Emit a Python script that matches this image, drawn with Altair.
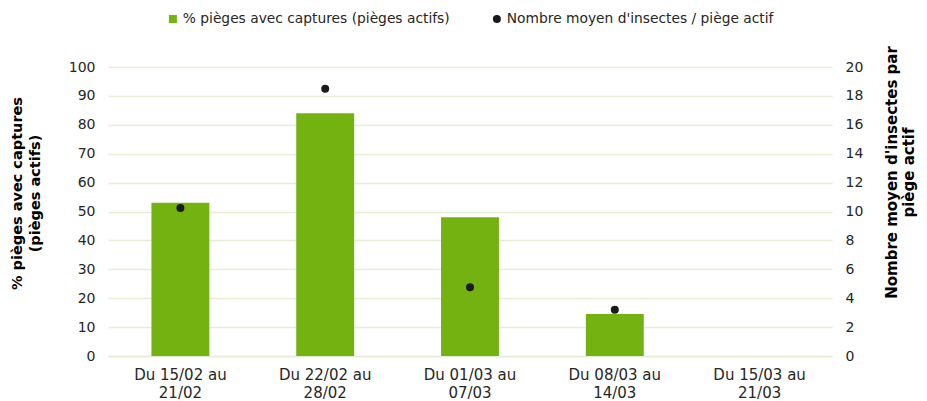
import altair as alt
import pandas as pd

categories = ["Du 15/02 au\n21/02", "Du 22/02 au\n28/02", "Du 01/03 au\n07/03",
              "Du 08/03 au\n14/03", "Du 15/03 au\n21/03"]
pct_values = [53, 84, 48, 14.5, None]
mean_values = [10.25, 18.5, 4.75, 3.2, None]
series = ["% pièges avec captures (pièges actifs)", "Nombre moyen d'insectes / piège actif"]

GREEN = "#74B211"
GRID = "#E3EED5"
FONT = "DejaVu Sans"
TXT = "#262626"

bars_df = pd.DataFrame({"cat": categories, "val": pct_values, "serie": series[0]}).dropna()
pts_df = pd.DataFrame({"cat": categories, "val": mean_values, "serie": series[1]}).dropna()

x_enc = alt.X("cat:N", sort=categories,
              scale=alt.Scale(domain=categories, paddingInner=0.6, paddingOuter=0.3, round=False),
              axis=alt.Axis(title=None, labelAngle=0, labelExpr="split(datum.value, '\\n')",
                            labelFontSize=15, labelColor=TXT, labelFont=FONT, labelPadding=11,
                            labelLineHeight=18, ticks=False, domainColor=GRID, domainWidth=1.5,
                            labelLimit=200))

legend_kw = dict(title=None, orient="none", legendX=58, legendY=-55,
                 direction="horizontal", labelFontSize=13.8, labelFont=FONT,
                 labelColor=TXT, symbolSize=64, columnPadding=40,
                 labelOffset=3, labelLimit=400)
color_enc = alt.Color("serie:N", scale=alt.Scale(domain=series, range=[GREEN, "#1a1a1a"]),
                      legend=alt.Legend(**legend_kw))
shape_enc = alt.Shape("serie:N", scale=alt.Scale(domain=series, range=["square", "circle"]),
                      legend=alt.Legend(**legend_kw))

bars = alt.Chart(bars_df).mark_bar(color=GREEN).encode(
    x=x_enc,
    y=alt.Y("val:Q", scale=alt.Scale(domain=[0, 100], nice=False),
            axis=alt.Axis(title=["% pièges avec captures", "(pièges actifs)"], values=list(range(0, 101, 10)),
                          grid=True, gridColor=GRID, gridWidth=1.5, domain=False, ticks=False,
                          labelFontSize=14, labelFont=FONT, labelColor=TXT, labelPadding=13,
                          titleFontSize=14.5, titleFont=FONT, titleFontWeight="bold", titleColor="#000",
                          titlePadding=26, titleLineHeight=18, titleY=126)),
    color=color_enc,
)

pts = alt.Chart(pts_df).mark_point(filled=True, size=64, opacity=1).encode(
    x=alt.X("cat:N", sort=categories),
    y=alt.Y("val:Q", scale=alt.Scale(domain=[0, 20], nice=False),
            axis=alt.Axis(title=["Nombre moyen d'insectes par", "piège actif"], orient="right",
                          values=list(range(0, 21, 2)), grid=False, domain=False, ticks=False,
                          labelFontSize=14, labelFont=FONT, labelColor=TXT, labelPadding=13,
                          titleFontSize=15, titleFont=FONT, titleFontWeight="bold", titleColor="#000",
                          titleAngle=270, titlePadding=20, titleLineHeight=17, titleY=105)),
    color=color_enc,
    shape=shape_enc,
)

chart = alt.layer(bars, pts).resolve_scale(y="independent").properties(
    width=724, height=289,
    autosize=alt.AutoSizeParams(type="none"),
    padding={"left": 100, "top": 59, "right": 87, "bottom": 45},
).configure_view(stroke=None)

chart.save("out.html", embed_options={"renderer": "svg", "actions": False})
